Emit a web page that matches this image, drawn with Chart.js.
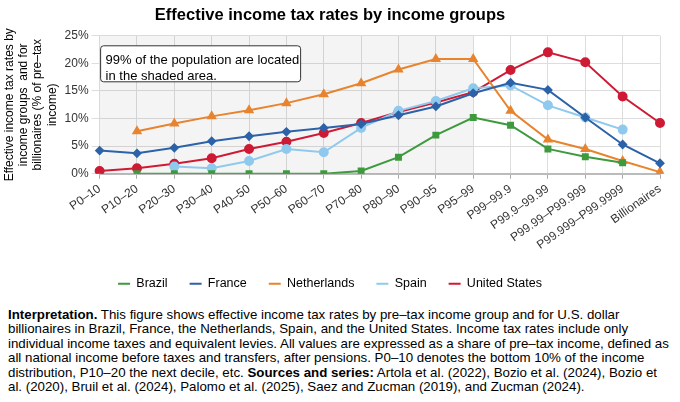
<!DOCTYPE html>
<html><head><meta charset="utf-8">
<script src="https://cdn.jsdelivr.net/npm/chart.js@4.4.0/dist/chart.umd.min.js"></script>
<style>
body{margin:0;background:#fff;font-family:"Liberation Sans",Arial,sans-serif;}
#wrap{width:680px;height:300px;position:relative;}
#note{position:absolute;left:8px;top:308px;width:664px;font-size:13.3px;line-height:14.4px;color:#000;}
</style></head><body>
<div id="wrap"><canvas id="c" width="680" height="300"></canvas></div>
<div id="note"><b>Interpretation.</b> This figure shows effective income tax rates by pre–tax income group and for U.S. dollar billionaires in Brazil, France, the Netherlands, Spain, and the United States. Income tax rates include only individual income taxes and equivalent levies. All values are expressed as a share of pre–tax income, defined as all national income before taxes and transfers, after pensions. P0–10 denotes the bottom 10% of the income distribution, P10–20 the next decile, etc. <b>Sources and series:</b> Artola et al. (2022), Bozio et al. (2024), Bozio et al. (2020), Bruil et al. (2024), Palomo et al. (2025), Saez and Zucman (2019), and Zucman (2024).</div>
<script>
Chart.defaults.font.family='"Liberation Sans", Arial';
const labels = ['P0–10','P10–20','P20–30','P30–40','P40–50','P50–60','P60–70','P70–80','P80–90','P90–95','P95–99','P99–99.9','P99.9–99.99','P99.99–P99.999','P99.999–P99.9999','Billionaires'];
const data = {
  'Brazil': [null,0,0,0,0,0,0,0.5,3.0,7.0,10.2,8.8,4.5,3.1,2.0,null],
  'France': [4.2,3.7,4.7,5.9,6.8,7.6,8.3,9.0,10.6,12.2,14.6,16.5,15.2,10.2,5.3,1.9],
  'Netherlands': [null,7.7,9.1,10.4,11.5,12.8,14.4,16.4,18.9,20.8,20.8,11.4,6.2,4.5,2.3,0.3],
  'Spain': [null,null,1.3,1.0,2.3,4.5,3.9,8.3,11.4,13.2,15.5,16.0,12.4,10.2,8.0,null],
  'United States': [0.5,1.0,1.8,2.8,4.5,5.8,7.4,9.2,11.2,12.9,14.8,18.8,22.0,20.2,14.0,9.2]
};
const styles = {
  'Brazil': ['#3d9a3d','rect',3.5],
  'France': ['#2c62a8','rectRot',3.5],
  'Netherlands': ['#e8832e','triangle',4],
  'Spain': ['#8fc9ee','circle',4],
  'United States': ['#cf1a35','circle',4]
};
const shade = {
  id:'shade',
  beforeDatasetsDraw(chart){
    const {ctx, chartArea:a, scales:{x}} = chart;
    ctx.save();
    ctx.fillStyle='rgba(0,0,0,0.045)';
    ctx.fillRect(a.left, a.top, x.getPixelForValue(10)-a.left, a.bottom-a.top);
    const bx=x.getPixelForValue(0)+1, by=a.top+10;
    ctx.fillStyle='#fff'; ctx.strokeStyle='#333'; ctx.lineWidth=1;
    ctx.beginPath(); ctx.roundRect(bx,by,200,36,3); ctx.fill(); ctx.stroke();
    ctx.fillStyle='#000'; ctx.font='13px "Liberation Sans", Arial';
    ctx.fillText('99% of the population are located', bx+5, by+15);
    ctx.fillText('in the shaded area.', bx+5, by+31);
    ctx.restore();
  }
};
new Chart(document.getElementById('c'), {
  type:'line',
  plugins:[shade],
  data:{labels, datasets: Object.keys(data).map(k => ({
    label:k, data:data[k], borderColor:styles[k][0], backgroundColor:styles[k][0],
    pointStyle:styles[k][1], pointRadius:styles[k][2], borderWidth:2, tension:0, spanGaps:false
  }))},
  options:{
    responsive:false, animation:false, devicePixelRatio:1,
    layout:{padding:{left:0,right:20,top:0,bottom:0}},
    plugins:{
      title:{display:true,text:'Effective income tax rates by income groups',color:'#000',font:{size:16.5,weight:'bold'},padding:{top:6,bottom:10}},
      legend:{position:'bottom',labels:{boxWidth:12,boxHeight:2,color:'#000',font:{size:12.5},padding:22,
        generateLabels(chart){ return chart.data.datasets.map((d,i)=>({text:d.label,fillStyle:d.borderColor,strokeStyle:d.borderColor,lineWidth:0,datasetIndex:i})); }}}
    },
    scales:{
      x:{grid:{color:'#ddd',tickColor:'#aaa',tickLength:5},border:{color:'#bbb',width:2},
        ticks:{color:'#333',maxRotation:35,minRotation:35,autoSkip:false,font:{size:12}}},
      y:{min:0,max:25,grid:{color:'#ddd'},border:{display:false},
        title:{display:true,text:['Effective income tax rates by','income groups  and for','billionaires (% of pre–tax','income)'],color:'#000',font:{size:12},padding:2},
        ticks:{stepSize:5,color:'#333',callback:v=>v+'%',font:{size:12}}}
    }
  }
});
</script>
</body></html>
